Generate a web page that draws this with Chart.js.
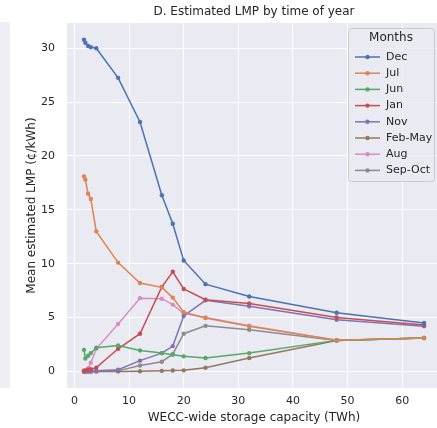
<!DOCTYPE html>
<html><head><meta charset="utf-8">
<script src="https://cdn.jsdelivr.net/npm/chart.js@4/dist/chart.umd.min.js"></script>
<style>
html,body{margin:0;padding:0;background:#fff;overflow:hidden;width:437px;height:428px}
#wrap{position:absolute;left:0;top:0;width:445px;height:428px}
#sliver{position:absolute;left:0;top:22px;width:10px;height:366px;background:#EEEEF4}
</style></head><body>
<div id="sliver"></div>
<div id="wrap"><canvas id="c" width="445" height="428"></canvas></div>
<script>
const storageTWh = [1.75, 2, 2.5, 3, 4, 8, 12, 16, 18, 20, 24, 32, 48, 64];
const seriesNames = ['Dec', 'Jul', 'Jun', 'Jan', 'Nov', 'Feb-May', 'Aug', 'Sep-Oct'];
const dec    = [30.8, 30.5, 30.2, 30.1, 30.0, 27.25, 23.15, 16.35, 13.7, 10.3, 8.1, 6.95, 5.45, 4.5];
const jul    = [18.1, 17.8, 16.5, 16.0, 13.0, 10.1, 8.2, 7.8, 6.85, 5.5, 4.95, 4.2, 2.9, 3.1];
const jun    = [2.0, 1.2, 1.45, 1.7, 2.2, 2.4, 1.95, 1.7, 1.55, 1.4, 1.25, 1.7, 2.88, 3.1];
const jan    = [0.05, 0.1, 0.15, 0.2, 0.35, 2.1, 3.5, 7.85, 9.25, 7.65, 6.65, 6.3, 5.0, 4.3];
const nov    = [0.0, 0.0, 0.0, 0.02, 0.05, 0.15, 1.0, 1.7, 2.35, 5.15, 6.6, 6.05, 4.8, 4.2];
const febMay = [0.0, 0.0, 0.0, 0.0, 0.0, 0.0, 0.02, 0.05, 0.08, 0.1, 0.35, 1.25, 2.87, 3.09];
const aug    = [0.1, 0.05, 0.3, 0.8, 2.1, 4.4, 6.8, 6.75, 6.2, 5.4, 5.0, 4.25, 2.9, 3.1];
const sepOct = [0.0, 0.0, 0.0, 0.0, 0.0, 0.05, 0.55, 0.9, 1.6, 3.5, 4.23, 3.86, 2.88, 3.1];
const xTicks = [0, 10, 20, 30, 40, 50, 60];
const yTicks = [0, 5, 10, 15, 20, 25, 30];

const allSeries = [dec, jul, jun, jan, nov, febMay, aug, sepOct];
const palette = ['#4C72B0', '#DD8452', '#55A868', '#C44E52', '#8172B3', '#937860', '#DA8BC3', '#8C8C8C'];
const FONT = 'DejaVu Sans';
const TXT = '#262626';

const datasets = allSeries.map((vals, i) => ({
  label: seriesNames[i],
  data: vals.map((v, j) => ({x: storageTWh[j], y: v})),
  borderColor: palette[i],
  backgroundColor: palette[i],
  borderWidth: 1.5,
  pointRadius: 2.2,
  pointBorderWidth: 0,
  pointBackgroundColor: palette[i],
  tension: 0,
  fill: false
}));

const bgPlugin = {
  id: 'bg',
  beforeDraw(chart) {
    const {ctx, chartArea: a} = chart;
    ctx.save();
    ctx.fillStyle = '#EAEAF2';
    ctx.fillRect(a.left, a.top, a.right - a.left, a.bottom - a.top);
    ctx.restore();
  },
  afterDraw(chart) {
    const {ctx, chartArea: a} = chart;
    ctx.save();
    ctx.fillStyle = TXT;
    ctx.font = '12px "' + FONT + '"';
    ctx.textAlign = 'center';
    ctx.textBaseline = 'middle';
    ctx.fillText('D. Estimated LMP by time of year', (a.left + a.right) / 2, 12);
    // legend
    const bx = 348, by = 28, bw = 86, bh = 153;
    ctx.fillStyle = 'rgba(234,234,242,0.85)';
    ctx.strokeStyle = '#CCCCCC';
    ctx.lineWidth = 1;
    ctx.beginPath();
    ctx.roundRect(bx + 0.5, by + 0.5, bw, bh, 3);
    ctx.fill();
    ctx.stroke();
    ctx.fillStyle = TXT;
    ctx.font = '12px "' + FONT + '"';
    ctx.fillText('Months', bx + bw / 2, 38);
    ctx.font = '11px "' + FONT + '"';
    ctx.textAlign = 'left';
    chart.data.datasets.forEach((ds, i) => {
      const y = 57 + i * 16.2;
      ctx.strokeStyle = ds.borderColor;
      ctx.lineWidth = 1.5;
      ctx.beginPath();
      ctx.moveTo(355, y);
      ctx.lineTo(380, y);
      ctx.stroke();
      ctx.fillStyle = ds.borderColor;
      ctx.beginPath();
      ctx.arc(367.5, y, 2.2, 0, Math.PI * 2);
      ctx.fill();
      ctx.fillStyle = TXT;
      ctx.fillText(ds.label, 386, y);
    });
    ctx.restore();
  }
};

new Chart(document.getElementById('c'), {
  type: 'line',
  data: {datasets},
  plugins: [bgPlugin],
  options: {
    responsive: false,
    animation: false,
    layout: {padding: {left: 0, right: 2, top: 23, bottom: 0}},
    plugins: {legend: {display: false}, tooltip: {enabled: false}, title: {display: false}},
    scales: {
      x: {
        type: 'linear', min: -1.36, max: 67.1,
        afterFit(s) { s.height = 40; },
        afterBuildTicks(s) { s.ticks = xTicks.map(v => ({value: v})); },
        grid: {color: '#FFFFFF', lineWidth: 1, drawTicks: false},
        border: {display: false},
        ticks: {padding: 7, color: TXT, font: {family: FONT, size: 11}},
        title: {display: true, text: 'WECC-wide storage capacity (TWh)', color: TXT,
                font: {family: FONT, size: 12}, padding: {top: 0, bottom: 3}}
      },
      y: {
        type: 'linear', min: -1.54, max: 32.34,
        afterFit(s) { s.width = 67; },
        afterBuildTicks(s) { s.ticks = yTicks.map(v => ({value: v})); },
        grid: {color: '#FFFFFF', lineWidth: 1, drawTicks: false},
        border: {display: false},
        ticks: {padding: 12, color: TXT, font: {family: FONT, size: 11}},
        title: {display: true, text: 'Mean estimated LMP (¢/kWh)', color: TXT,
                font: {family: FONT, size: 12}, padding: {top: 25, bottom: 0}}
      }
    }
  }
});
</script>
</body></html>
